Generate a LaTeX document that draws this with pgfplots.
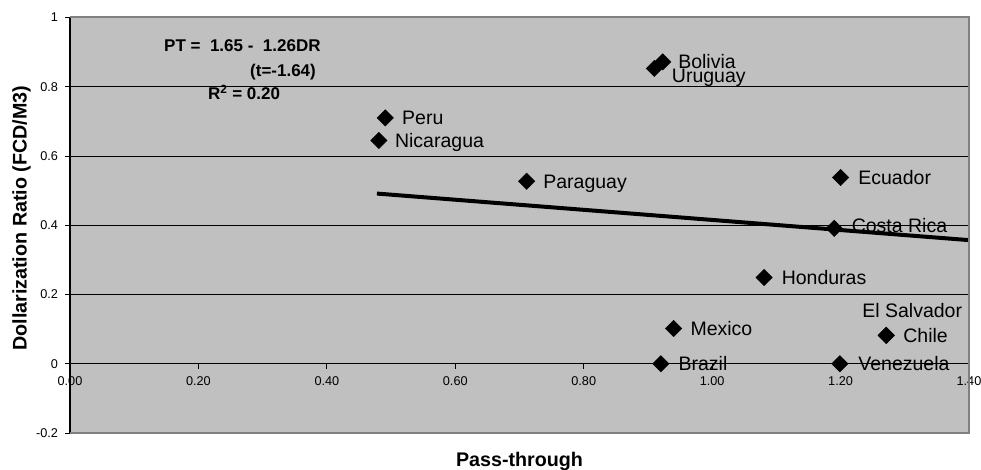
\documentclass[border=0pt]{standalone}
\usepackage{fontspec}
\setmainfont{Liberation Sans}
\usepackage{pgfplots}
\pgfplotsset{compat=1.18}
\definecolor{plotgray}{RGB}{192,192,192}
\definecolor{framegray}{RGB}{128,128,128}

\begin{document}
\begin{tikzpicture}
\begin{axis}[
	name=ax,
	scale only axis,
	width=899pt, height=415.5pt,
	xmin=0, xmax=1.4,
	ymin=-0.2, ymax=1,
	clip=false,
	axis x line=middle, axis y line=left,
	axis line style={-},
	x axis line style={black, line width=0.8pt},
	y axis line style={black, line width=1.6pt},
	axis background/.style={fill=plotgray},
	xtick={0,0.2,0.4,0.6,0.8,1.0,1.2,1.4},
	ytick={-0.2,0,0.2,0.4,0.6,0.8,1},
	hide obscured x ticks=false,
	hide obscured y ticks=false,
	xtick align=outside, ytick align=outside,
	major tick length=5pt,
	tick style={black, line width=0.8pt},
	ymajorgrids,
	major grid style={black, line width=0.8pt},
	/pgf/number format/assume math mode=true,
	tick label style={font=\fontsize{12.7}{14}\selectfont},
	xticklabel style={yshift=-4.5pt, /pgf/number format/fixed, /pgf/number format/fixed zerofill, /pgf/number format/precision=2},
	yticklabel style={xshift=-3.5pt, /pgf/number format/fixed},
]
\addplot[only marks, mark=square*, mark size=5.8pt,
	mark options={rotate=45, fill=black, draw=black},
	nodes near coords, point meta=explicit symbolic,
	visualization depends on={value \thisrow{dx}\as\dx},
	visualization depends on={value \thisrow{dy}\as\dy},
	every node near coord/.style={anchor=base west, inner sep=0pt,
		xshift=\dx pt, yshift=\dy pt, text=black,
		font=\fontsize{19.5}{22}\selectfont}]
table[col sep=comma, row sep=\\, x=x, y=y, meta=name] {
x,y,dx,dy,name\\
0.923,0.872,15.4,-7,Bolivia\\
0.910,0.853,17.4,-14,Uruguay\\
0.491,0.710,16.7,-7,Peru\\
0.481,0.645,16,-7,Nicaragua\\
0.711,0.527,16.6,-7,Paraguay\\
1.200,0.538,17.6,-7,Ecuador\\
1.190,0.391,17.4,-4,Costa Rica\\
1.081,0.249,17.4,-7,Honduras\\
0.940,0.102,16.7,-7,Mexico\\
0.920,0.000,17.6,-7,Brazil\\
1.199,0.000,18.3,-7,Venezuela\\
1.271,0.082,17,-7,Chile\\
1.271,0.082,-24,18,El Salvador\\
};
\addplot[black, line width=4pt] coordinates {(0.478,0.4915) (1.4,0.357)};
\end{axis}

\draw[framegray, line width=2pt] (ax.north west) -- (ax.north east) -- (ax.south east) -- (ax.south west);

\node[anchor=base west, inner sep=0pt, font=\fontsize{17}{19}\selectfont\bfseries]
	at ([shift={(94pt,-34.5pt)}]ax.north west) {PT =\ \ 1.65 -\ \ 1.26DR};
\node[anchor=base west, inner sep=0pt, font=\fontsize{17}{19}\selectfont\bfseries]
	at ([shift={(180pt,-59.3pt)}]ax.north west) {(t=-1.64)};
\node[anchor=base west, inner sep=0pt, font=\fontsize{17}{19}\selectfont\bfseries]
	at ([shift={(138pt,-82.5pt)}]ax.north west) {R\textsuperscript{2} = 0.20};

\node[anchor=base, inner sep=0pt, font=\fontsize{19.7}{22}\selectfont\bfseries]
	at ([shift={(0pt,-33.7pt)}]ax.south) {Pass-through};
\node[anchor=base, rotate=90, inner sep=0pt, font=\fontsize{19.7}{22}\selectfont\bfseries]
	at ([shift={(-43.3pt,7pt)}]ax.west) {Dollarization Ratio (FCD/M3)};

\pgfresetboundingbox
\path (ax.south west) ++(-70pt,-37pt) rectangle ++(981pt,470pt);
\end{tikzpicture}
\end{document}
